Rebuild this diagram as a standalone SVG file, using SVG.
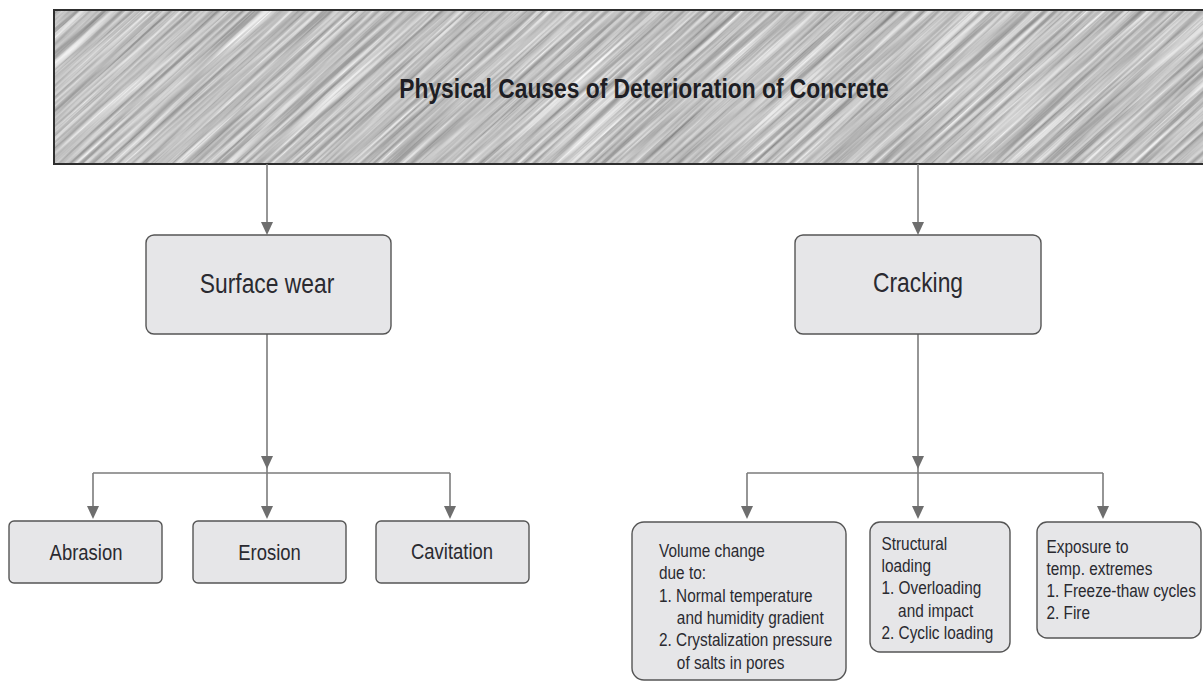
<svg xmlns="http://www.w3.org/2000/svg" width="1203" height="682" viewBox="0 0 1203 682">
<style>
  .t { font-family: "Liberation Sans", Arial, sans-serif; fill: #2a2a30; }
  .title { font-size: 27.5px; font-weight: bold; fill: #1e1e24; }
  .big { font-size: 27.5px; }
  .mid { font-size: 22px; }
  .sm { font-size: 18.5px; }
  .box { fill: #e6e6e8; stroke: #555; stroke-width: 1.4; }
  .ln { stroke: #7c7c7c; stroke-width: 1.6; fill: none; }
  .ah { fill: #6e6e6e; }
</style>
<defs>
  <clipPath id="hclip"><rect x="54" y="10" width="1160" height="154"/></clipPath>
  <filter id="streak" x="0" y="0" width="1" height="1" color-interpolation-filters="sRGB">
    <feTurbulence type="fractalNoise" baseFrequency="0.006 0.28" numOctaves="4" seed="7"/>
    <feColorMatrix type="matrix" values="0.62 0 0 0 0.44  0.62 0 0 0 0.44  0.62 0 0 0 0.44  0 0 0 0 1"/>
    <feGaussianBlur stdDeviation="0.6"/>
  </filter>
</defs>
<g id="header">
  <rect x="54" y="10" width="1160" height="154" fill="#c4c4c4"/>
  <g clip-path="url(#hclip)">
    <g transform="rotate(-42 630 87)">
      <rect x="-250" y="-600" width="1760" height="1380" filter="url(#streak)"/>
    </g>
  </g>
  <rect x="54" y="10" width="1160" height="154" fill="none" stroke="#2e2e2e" stroke-width="2"/>
  <text class="t title" text-anchor="middle" transform="translate(644 97.5) scale(0.83 1)">Physical Causes of Deterioration of Concrete</text>
</g>
<g id="connectors">
  <path class="ln" d="M267 164 V224"/>
  <polygon class="ah" points="261,222 273,222 267,235"/>
  <path class="ln" d="M918 164 V224"/>
  <polygon class="ah" points="912,222 924,222 918,235"/>
  <path class="ln" d="M267 334 V508 M93 473 H450 M93 473 V508 M450 473 V508"/>
  <polygon class="ah" points="261,456 273,456 267,469"/>
  <polygon class="ah" points="87,506 99,506 93,519"/>
  <polygon class="ah" points="261,506 273,506 267,519"/>
  <polygon class="ah" points="444,506 456,506 450,519"/>
  <path class="ln" d="M918 334 V508 M747 473 H1103 M747 473 V508 M1103 473 V508"/>
  <polygon class="ah" points="912,456 924,456 918,469"/>
  <polygon class="ah" points="741,506 753,506 747,519"/>
  <polygon class="ah" points="912,506 924,506 918,519"/>
  <polygon class="ah" points="1097,506 1109,506 1103,519"/>
</g>
<g id="surface-wear">
  <rect class="box" x="146" y="235" width="245" height="99" rx="8"/>
  <text class="t big" text-anchor="middle" transform="translate(267 293) scale(0.83 1)">Surface wear</text>
</g>
<g id="cracking">
  <rect class="box" x="795" y="235" width="246" height="99" rx="8"/>
  <text class="t big" text-anchor="middle" transform="translate(918 292) scale(0.83 1)">Cracking</text>
</g>
<g id="abrasion">
  <rect class="box" x="9" y="521" width="153" height="62" rx="5"/>
  <text class="t mid" text-anchor="middle" transform="translate(86 560) scale(0.84 1)">Abrasion</text>
</g>
<g id="erosion">
  <rect class="box" x="193" y="521" width="153" height="62" rx="5"/>
  <text class="t mid" text-anchor="middle" transform="translate(269.5 560) scale(0.84 1)">Erosion</text>
</g>
<g id="cavitation">
  <rect class="box" x="376" y="521" width="153" height="62" rx="5"/>
  <text class="t mid" text-anchor="middle" transform="translate(452 559) scale(0.84 1)">Cavitation</text>
</g>
<g id="volume-change">
  <rect class="box" x="632" y="522" width="214" height="158" rx="12"/>
  <text class="t sm" transform="translate(659 557) scale(0.83 1)">
    <tspan x="0" y="0">Volume change</tspan>
    <tspan x="0" y="22">due to:</tspan>
    <tspan x="0" y="45">1. Normal temperature</tspan>
    <tspan x="21.5" y="67">and humidity gradient</tspan>
    <tspan x="0" y="89.5">2. Crystalization pressure</tspan>
    <tspan x="21.5" y="112">of salts in pores</tspan>
  </text>
</g>
<g id="structural-loading">
  <rect class="box" x="870" y="522" width="140" height="130" rx="10"/>
  <text class="t sm" transform="translate(881.5 549.5) scale(0.83 1)">
    <tspan x="0" y="0">Structural</tspan>
    <tspan x="0" y="22.5">loading</tspan>
    <tspan x="0" y="45">1. Overloading</tspan>
    <tspan x="20" y="67.5">and impact</tspan>
    <tspan x="0" y="90">2. Cyclic loading</tspan>
  </text>
</g>
<g id="temp-extremes">
  <rect class="box" x="1037" y="522" width="164" height="116" rx="10"/>
  <text class="t sm" transform="translate(1046.5 553) scale(0.83 1)">
    <tspan x="0" y="0">Exposure to</tspan>
    <tspan x="0" y="22">temp. extremes</tspan>
    <tspan x="0" y="44.5">1. Freeze-thaw cycles</tspan>
    <tspan x="0" y="66.5">2. Fire</tspan>
  </text>
</g>
</svg>
